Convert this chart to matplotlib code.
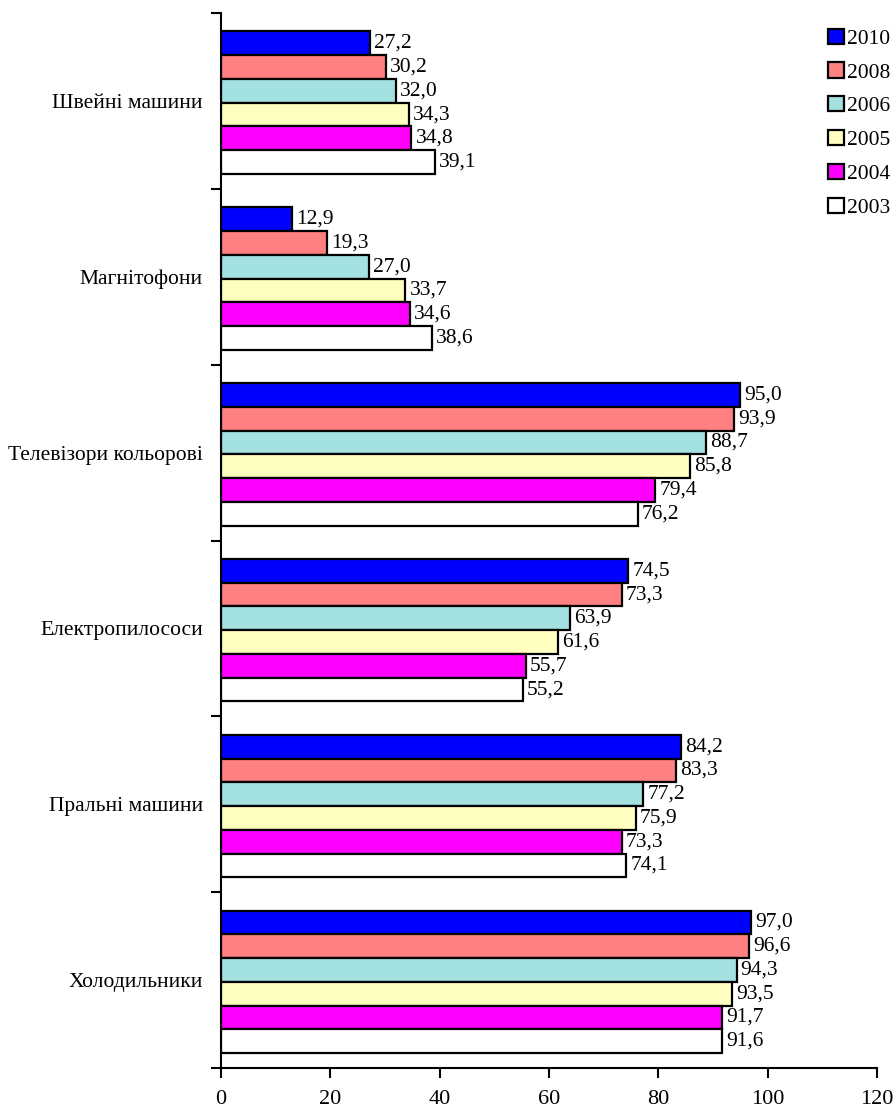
"""Household durable goods per 100 households, horizontal grouped bars"""

import numpy as np
import matplotlib
matplotlib.use("Agg")
import matplotlib.pyplot as plt

plt.rcParams['font.family'] = ['Liberation Serif', 'DejaVu Serif']

categories = ["Швейні машини", "Магнітофони", "Телевізори кольорові",
              "Електропилососи", "Пральні машини", "Холодильники"]
years = ["2010", "2008", "2006", "2005", "2004", "2003"]

# values per year, in the order of categories
values = {
    "2010": [27.2, 12.9, 95.0, 74.5, 84.2, 97.0],
    "2008": [30.2, 19.3, 93.9, 73.3, 83.3, 96.6],
    "2006": [32.0, 27.0, 88.7, 63.9, 77.2, 94.3],
    "2005": [34.3, 33.7, 85.8, 61.6, 75.9, 93.5],
    "2004": [34.8, 34.6, 79.4, 55.7, 73.3, 91.7],
    "2003": [39.1, 38.6, 76.2, 55.2, 74.1, 91.6],
}
colors = {"2010": "#0000FF", "2008": "#FF8080", "2006": "#A3E0E0",
          "2005": "#FFFFC0", "2004": "#FF00FF", "2003": "#FFFFFF"}

fs = 15.5
fig = plt.figure(figsize=(8.96, 11.13), dpi=100)
ax = fig.add_axes([0.2467, 0.0404, 0.9788 - 0.2467, 0.9883 - 0.0404])

y = np.arange(len(categories))
h = 0.135
start = -0.395
for j, yr in enumerate(years):
    pos = y + start + h * (j + 0.5)
    bars = ax.barh(pos, values[yr], height=h, color=colors[yr],
                   edgecolor="black", linewidth=1.6, label=yr)
    ax.bar_label(bars, labels=[f"{v:.1f}".replace(".", ",") for v in values[yr]],
                 padding=3, fontsize=fs)

ax.set_ylim(len(categories) - 0.5, -0.5)
ax.set_xlim(0, 120)
ax.set_xticks(np.arange(0, 121, 20))
ax.tick_params(axis="x", direction="out", length=7, width=1.5, labelsize=16, pad=9)

ax.set_yticks(np.arange(-0.5, len(categories), 1.0))
ax.set_yticklabels([])
ax.tick_params(axis="y", which="major", direction="out", length=7, width=1.5)
ax.set_yticks(y, minor=True)
ax.set_yticklabels(categories, minor=True, fontsize=fs)
ax.tick_params(axis="y", which="minor", length=0, pad=13)

for s in ["top", "right"]:
    ax.spines[s].set_visible(False)
for s in ["left", "bottom"]:
    ax.spines[s].set_linewidth(1.5)

leg = ax.legend(loc="upper left", bbox_to_anchor=(0.915, 0.982),
                bbox_transform=fig.transFigure, frameon=False, fontsize=fs,
                handlelength=0.7, handleheight=0.7, handletextpad=0.15,
                labelspacing=0.64, borderaxespad=0)

fig.savefig("out.png", dpi=100)
